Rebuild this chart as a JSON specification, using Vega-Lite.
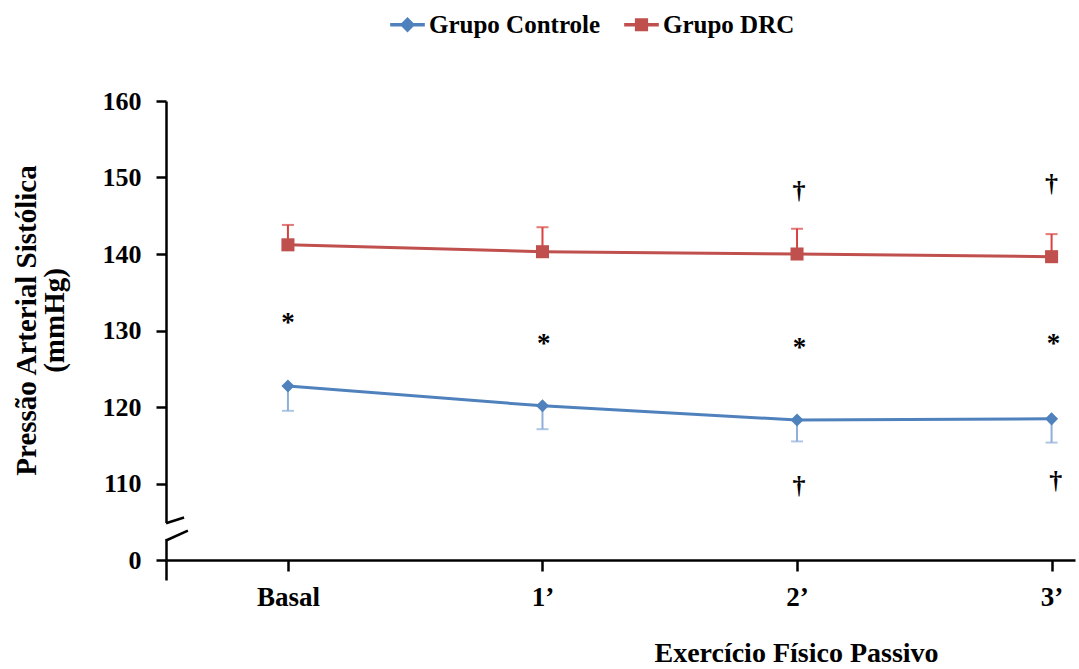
{
  "$schema": "https://vega.github.io/schema/vega-lite/v6.json",
  "width": 909,
  "height": 459,
  "autosize": {"type": "none"},
  "padding": {"left": 166, "top": 101, "right": 4, "bottom": 109},
  "background": "white",
  "config": {"view": {"stroke": null}, "font": "Liberation Serif"},
  "datasets": {
    "main": [
      {"t": 0, "grupo": "Grupo Controle", "v": 122.75, "e": 119.5},
      {"t": 1, "grupo": "Grupo Controle", "v": 120.15, "e": 117.1},
      {"t": 2, "grupo": "Grupo Controle", "v": 118.3, "e": 115.5},
      {"t": 3, "grupo": "Grupo Controle", "v": 118.45, "e": 115.35},
      {"t": 0, "grupo": "Grupo DRC", "v": 141.2, "e": 143.8},
      {"t": 1, "grupo": "Grupo DRC", "v": 140.3, "e": 143.5},
      {"t": 2, "grupo": "Grupo DRC", "v": 140.0, "e": 143.3},
      {"t": 3, "grupo": "Grupo DRC", "v": 139.65, "e": 142.6}
    ],
    "stars": [
      {"t": 0.0, "v": 131.5, "s": "*"},
      {"t": 1.005, "v": 128.75, "s": "*"},
      {"t": 2.01, "v": 128.2, "s": "*"},
      {"t": 3.008, "v": 128.75, "s": "*"}
    ],
    "daggers": [
      {"t": 2.008, "v": 148.1, "s": "\u2020"},
      {"t": 2.008, "v": 109.6, "s": "\u2020"},
      {"t": 3.0, "v": 149.0, "s": "\u2020"},
      {"t": 3.016, "v": 110.2, "s": "\u2020"}
    ],
    "gap": [{"t": -0.479, "v": 102.75, "v2": 104.85}],
    "slash": [
      {"seg": "a", "t": -0.479, "v": 104.8},
      {"seg": "a", "t": -0.408, "v": 105.55},
      {"seg": "b", "t": -0.479, "v": 102.55},
      {"seg": "b", "t": -0.393, "v": 103.85}
    ]
  },
  "encoding": {
    "x": {
      "field": "t",
      "type": "quantitative",
      "scale": {"domain": [-0.479, 3.092], "nice": false, "zero": false},
      "axis": {
        "values": [-0.479, 0, 1, 2, 3],
        "labelExpr": "datum.value < -0.1 ? '' : ['Basal','1\u2019','2\u2019','3\u2019'][round(datum.value)]",
        "grid": false,
        "domainColor": "black",
        "domainWidth": 2.5,
        "tickColor": "black",
        "tickWidth": 2.5,
        "tickSize": {"condition": {"test": "datum.value < -0.1", "value": 20}, "value": 11},
        "labelFont": "Liberation Serif",
        "labelFontWeight": "bold",
        "labelFontSize": 27,
        "labelColor": "black",
        "labelPadding": 13,
        "labelFlush": false,
        "labelOverlap": false,
        "title": "Exerc\u00edcio F\u00edsico Passivo",
        "titleFont": "Liberation Serif",
        "titleFontWeight": "bold",
        "titleFontSize": 28,
        "titleColor": "black",
        "titleX": 630,
        "titleY": 93,
        "titleAlign": "center",
        "titleBaseline": "middle"
      }
    },
    "y": {
      "field": "v",
      "type": "quantitative",
      "scale": {"domain": [100, 160], "nice": false, "zero": false},
      "title": ["Press\u00e3o Arterial Sist\u00f3lica", "(mmHg)"],
      "axis": {
        "values": [100, 110, 120, 130, 140, 150, 160],
        "labelExpr": "datum.value == 100 ? '0' : datum.label",
        "grid": false,
        "domainColor": "black",
        "domainWidth": 2.5,
        "tickColor": "black",
        "tickWidth": 2.5,
        "tickSize": 10,
        "labelFont": "Liberation Serif",
        "labelFontWeight": "bold",
        "labelFontSize": 26,
        "labelColor": "black",
        "labelPadding": 15,
        "labelOverlap": false,
        "titleFont": "Liberation Serif",
        "titleFontWeight": "bold",
        "titleFontSize": 29,
        "titleLineHeight": 28,
        "titleColor": "black",
        "titlePadding": 33,
        "titleY": 219
      }
    }
  },
  "layer": [
    {
      "data": {"name": "main"},
      "mark": {"type": "rule", "strokeWidth": 2},
      "encoding": {
        "y2": {"field": "e"},
        "color": {"condition": {"test": "datum.grupo == 'Grupo Controle'", "value": "#8FAEDA"}, "value": "#D9403E"}
      }
    },
    {
      "data": {"name": "main"},
      "mark": {"type": "tick", "orient": "horizontal", "size": 12, "thickness": 2},
      "encoding": {
        "y": {"field": "e", "type": "quantitative", "title": ["Press\u00e3o Arterial Sist\u00f3lica", "(mmHg)"]},
        "color": {"condition": {"test": "datum.grupo == 'Grupo Controle'", "value": "#8FAEDA"}, "value": "#D9403E"}
      }
    },
    {
      "data": {"name": "main"},
      "mark": {"type": "line", "strokeWidth": 3},
      "encoding": {
        "color": {
          "field": "grupo",
          "type": "nominal",
          "scale": {"domain": ["Grupo Controle", "Grupo DRC"], "range": ["#4F81BD", "#C0504D"]},
          "legend": {
            "orient": "none",
            "legendX": 222,
            "legendY": -96,
            "direction": "horizontal",
            "title": null,
            "labelFont": "Liberation Serif",
            "labelFontWeight": "bold",
            "labelFontSize": 25,
            "labelColor": "black",
            "labelLimit": 400,
            "labelOffset": 2,
            "columnPadding": 16,
            "symbolSize": 1200,
            "encode": {
              "symbols": {
                "update": {
                  "shape": {"signal": "datum.value == 'Grupo Controle' ? 'M-1,0L1,0M0,-0.3L0.3,0L0,0.3L-0.3,0Z' : 'M-1,0L1,0M-0.28,-0.28L0.28,-0.28L0.28,0.28L-0.28,0.28Z'"},
                  "fill": {"signal": "datum.value == 'Grupo Controle' ? '#4F81BD' : '#C0504D'"},
                  "stroke": {"signal": "datum.value == 'Grupo Controle' ? '#4F81BD' : '#C0504D'"},
                  "strokeWidth": {"value": 3.5},
                  "opacity": {"value": 1}
                }
              }
            }
          }
        }
      }
    },
    {
      "data": {"name": "main"},
      "mark": {"type": "point", "filled": true, "opacity": 1, "size": 170},
      "encoding": {
        "color": {"field": "grupo", "type": "nominal", "legend": null},
        "shape": {"condition": {"test": "datum.grupo == 'Grupo DRC'", "value": "square"}, "value": "diamond"}
      }
    },
    {
      "data": {"name": "gap"},
      "mark": {"type": "rule", "color": "white", "strokeWidth": 6, "clip": false},
      "encoding": {"y2": {"field": "v2"}}
    },
    {
      "data": {"name": "slash"},
      "mark": {"type": "line", "color": "black", "strokeWidth": 2.5, "clip": false},
      "encoding": {"detail": {"field": "seg"}}
    },
    {
      "data": {"name": "stars"},
      "mark": {"type": "text", "font": "Liberation Serif", "fontWeight": "bold", "fontSize": 27, "color": "black", "baseline": "alphabetic", "dy": 12},
      "encoding": {"text": {"field": "s"}}
    },
    {
      "data": {"name": "daggers"},
      "mark": {"type": "text", "font": "Liberation Serif", "fontWeight": "bold", "fontSize": 26, "color": "black", "baseline": "alphabetic", "dy": 7},
      "encoding": {"text": {"field": "s"}}
    }
  ]
}
